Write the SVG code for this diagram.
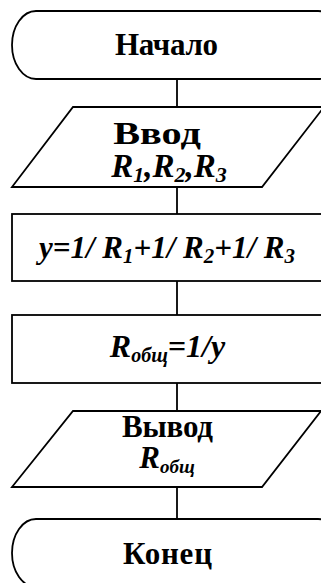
<svg xmlns="http://www.w3.org/2000/svg" width="321" height="583" viewBox="0 0 321 583">
<style>
.s{fill:#fff;stroke:#000;stroke-width:1.8}
.c{fill:none;stroke:#000;stroke-width:1.8}
.t{font-family:"Liberation Serif","Times New Roman",serif;font-weight:bold;font-size:31px;fill:#000;text-anchor:middle}
.i{font-style:italic}
.sub{font-size:21px}
.sm{font-size:19px}
</style>
<rect width="321" height="583" fill="#fff"/>
<g id="connectors">
<line class="c" x1="177" y1="79" x2="177" y2="107"/>
<line class="c" x1="177" y1="187" x2="177" y2="214"/>
<line class="c" x1="177" y1="281" x2="177" y2="315"/>
<line class="c" x1="177" y1="383" x2="177" y2="411"/>
<line class="c" x1="177" y1="487" x2="177" y2="519"/>
</g>
<g id="start">
<rect class="s" x="12" y="11" width="330" height="68" rx="24" ry="34"/>
<text class="t" x="166.5" y="55" textLength="103" lengthAdjust="spacing">Начало</text>
</g>
<g id="input">
<polygon class="s" points="73,107 324,107 262,187 12,187"/>
<text class="t" x="0" y="144" transform="translate(157,0) scale(1.3,1)">Ввод</text>
<text class="t i" x="169" y="177" style="font-size:33px">R<tspan class="sub" dy="5" style="font-size:22px">1</tspan><tspan dy="-5">,R</tspan><tspan class="sub" dy="5" style="font-size:22px">2</tspan><tspan dy="-5">,R</tspan><tspan class="sub" dy="5" style="font-size:22px">3</tspan></text>
</g>
<g id="calc-y">
<rect class="s" x="12" y="214" width="335" height="67"/>
<text class="t i" x="167" y="258">y=1/ R<tspan class="sub" dy="5">1</tspan><tspan dy="-5">+1/ R</tspan><tspan class="sub" dy="5">2</tspan><tspan dy="-5">+1/ R</tspan><tspan class="sub" dy="5">3</tspan></text>
</g>
<g id="calc-r">
<rect class="s" x="12" y="315" width="335" height="68"/>
<text class="t i" x="167.5" y="357" style="font-size:32px">R<tspan class="sm" dy="5" style="font-size:20px">общ</tspan><tspan dy="-5">=1/y</tspan></text>
</g>
<g id="output">
<polygon class="s" points="73,411 321,411 262,487 12,487"/>
<text class="t" x="167.5" y="437" textLength="91" lengthAdjust="spacing">Вывод</text>
<text class="t i" x="167" y="468">R<tspan class="sm" dy="5">общ</tspan></text>
</g>
<g id="end">
<rect class="s" x="12" y="519" width="330" height="68" rx="24" ry="34"/>
<text class="t" x="167.5" y="564" textLength="89" lengthAdjust="spacing">Конец</text>
</g>
</svg>
